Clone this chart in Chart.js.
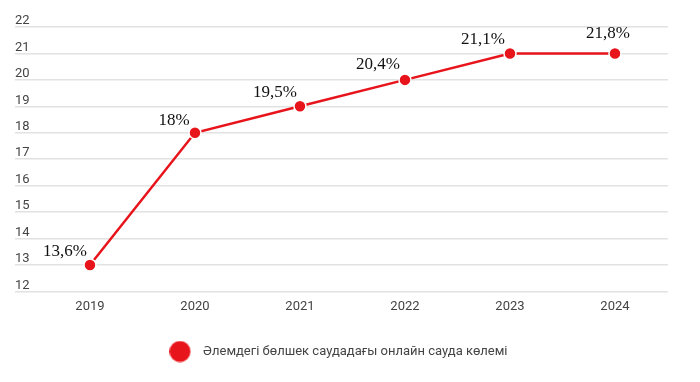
<!DOCTYPE html>
<html>
<head>
<meta charset="utf-8">
<script src="https://cdn.jsdelivr.net/npm/chart.js@4"></script>
<style>
html,body{margin:0;padding:0;background:#fff;}
#wrap{width:700px;height:382px;position:relative;}
</style>
</head>
<body>
<div id="wrap"><canvas id="c"></canvas></div>
<script>
const categories = ['2019', '2020', '2021', '2022', '2023', '2024'];
const values = [13, 18, 19, 20, 21, 21];
const pointLabels = ['13,6%', '18%', '19,5%', '20,4%', '21,1%', '21,8%'];
const seriesName = 'Әлемдегі бөлшек саудадағы онлайн сауда көлемі';
const yTicks = [12, 13, 14, 15, 16, 17, 18, 19, 20, 21, 22];

const RED = '#e8141b';
const labelShift = [[-25, -13], [-21, -12], [-25, -14], [-27, -15], [-27, -14], [-7, -20]];

// legend marker: a 21px red circle placed left of centre in a wider image
const marker = document.createElement('canvas');
marker.width = 33; marker.height = 22;
(function(){
  const m = marker.getContext('2d');
  m.fillStyle = RED;
  m.beginPath();
  m.arc(10.5, 11, 10.5, 0, Math.PI * 2);
  m.fill();
})();

const dataLabelPlugin = {
  id: 'dataLabels',
  afterDatasetsDraw(chart) {
    const ctx = chart.ctx;
    const meta = chart.getDatasetMeta(0);
    ctx.save();
    ctx.font = '17px "Liberation Serif", "Times New Roman", serif';
    ctx.fillStyle = '#111';
    ctx.textAlign = 'center';
    ctx.textBaseline = 'middle';
    meta.data.forEach((pt, i) => {
      const s = labelShift[i];
      ctx.fillText(pointLabels[i], pt.x + s[0], pt.y + s[1]);
    });
    ctx.restore();
  }
};

new Chart(document.getElementById('c'), {
  type: 'line',
  data: {
    datasets: [{
      label: seriesName,
      data: categories.map((c, i) => ({x: Number(c), y: values[i]})),
      borderColor: RED,
      backgroundColor: RED,
      borderWidth: 2.5,
      pointRadius: 6,
      pointBorderColor: '#fff',
      pointBorderWidth: 1.5,
      pointBackgroundColor: RED,
      tension: 0
    }]
  },
  options: {
    responsive: true,
    maintainAspectRatio: false,
    animation: false,
    layout: {padding: {left: 15, right: 32, top: 27, bottom: 14}},
    plugins: {
      legend: {
        position: 'bottom',
        labels: {
          usePointStyle: true,
          pointStyle: marker,
          pointStyleWidth: 21,
          color: '#444',
          font: {family: 'Roboto', size: 13},
          padding: 22
        }
      },
      tooltip: {enabled: false}
    },
    scales: {
      x: {
        type: 'linear',
        min: 2018.286,
        max: 2024.505,
        afterBuildTicks(scale) {
          scale.ticks = categories.map(c => ({value: Number(c)}));
        },
        ticks: {
          callback: (v) => String(v),
          color: '#444',
          font: {family: 'Roboto', size: 13},
          padding: 8,
          maxRotation: 0,
          autoSkip: false
        },
        grid: {display: false, drawTicks: false},
        border: {display: false}
      },
      y: {
        min: 12,
        max: 22,
        afterBuildTicks(scale) {
          scale.ticks = yTicks.map(v => ({value: v}));
        },
        ticks: {
          mirror: true,
          padding: 0,
          labelOffset: -6,
          color: '#444',
          font: {family: 'Roboto', size: 13}
        },
        grid: {color: '#e2e2e2', lineWidth: 1.5, drawTicks: false},
        border: {display: false}
      }
    }
  },
  plugins: [dataLabelPlugin]
});
</script>
</body>
</html>
